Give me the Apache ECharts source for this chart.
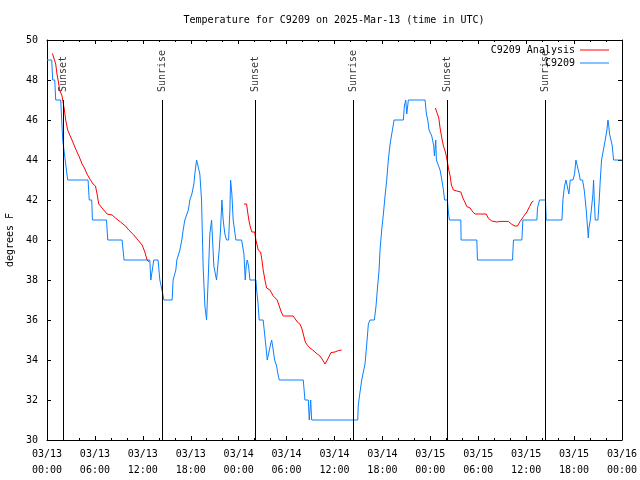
<!DOCTYPE html>
<html><head><meta charset="utf-8">
<script src="https://cdn.jsdelivr.net/npm/echarts@6/dist/echarts.min.js"></script>
<style>html,body{margin:0;padding:0;background:#fff}#c{width:640px;height:480px}</style>
</head><body><div id="c"></div>
<script>
// hours since 2025-03-13 00:00 UTC
var obsTimes = [0.00,0.59,0.71,0.97,1.09,1.72,1.84,1.97,2.09,2.28,2.47,2.59,5.14,5.29,5.60,5.69,7.45,7.61,9.40,9.65,
12.87,13.00,13.19,13.37,13.91,14.13,14.38,14.50,14.63,15.67,15.79,16.13,16.26,16.64,16.88,17.05,17.26,17.51,17.70,17.89,
18.14,18.39,18.51,18.73,18.98,19.14,19.35,19.55,19.77,19.98,20.18,20.39,20.61,20.73,20.89,21.23,21.46,21.56,21.73,21.90,
22.06,22.27,22.48,22.74,22.90,22.99,23.15,23.31,23.65,24.37,24.49,24.66,24.82,24.94,25.07,25.24,25.41,26.16,26.25,26.41,
26.57,27.07,27.25,27.41,27.58,27.83,28.00,28.13,28.33,28.50,28.75,28.92,29.08,32.09,32.30,32.72,32.84,33.02,33.14,38.91,
38.98,39.16,39.41,39.61,39.82,40.04,40.24,40.45,40.99,41.20,41.36,41.58,41.70,41.91,42.12,42.33,42.54,42.74,42.96,43.17,
43.46,44.62,44.75,44.92,45.05,45.25,47.34,47.51,47.68,47.84,48.18,48.43,48.51,48.68,48.76,48.97,49.22,49.44,49.64,49.79,
50.14,50.26,50.39,51.82,51.85,53.82,53.90,58.29,58.41,59.46,59.59,61.34,61.42,61.67,62.42,62.51,64.48,64.60,64.80,64.98,
65.18,65.35,65.52,65.86,66.06,66.23,66.43,66.64,66.77,67.06,67.27,67.40,67.52,67.69,67.78,67.86,68.03,68.28,68.36,68.44,
68.53,68.65,68.99,69.15,69.28,69.44,69.69,69.90,70.11,70.24,70.32,70.44,70.62,70.78,70.95,72.00];
var obsTemps = [49,49,48,48,47,47,46,45,45,44,44,43,43,42,42,41,41,40,40,39,
39,38,38,39,39,38,38,37.3,37,37,38,38.5,39,39.5,40,40.5,41,41,41.5,42,
42.3,42.8,43.3,44,44,43.3,42,38.7,36.7,36,38,40.3,41,40,38.7,38,38,39.5,40.5,42,
41,40.3,40,40,41.5,43,42.3,41,40,40,40,39.3,38,38.7,39,38.7,38,38,37.5,36.9,
36,36,35.3,34.7,34,34,34.8,35,34.5,34,33.7,33.3,33,33,32,32,31,32,31,31,
31.75,32.3,33,33,33.8,34.8,35.8,36,36,36.7,37.5,38.5,39.5,40.5,41.3,42.2,43,44,44.8,45.3,
46,46,46.7,47,46.3,47,47,46.3,46,45.5,45.2,44.7,44.2,45,44,44,43.5,43,42.5,42,
42,41.4,41,41,40,40,39,39,40,40,41,41,41.6,42,42,41,41,42,42.7,43,
43,42.3,43,43,43.3,44,44,43.3,43,43,42.5,42,41.5,40.6,40.1,40.6,41,41,42.3,43,
42,41,41,42,43,44,44,45,45.5,46,45.8,45.3,45,44.7,44,44];

var anaTimes = [0.68,0.88,1.09,1.25,1.43,1.59,1.88,2.01,2.18,2.34,2.59,2.85,3.13,3.43,3.76,4.10,4.39,4.69,5.01,5.44,
5.77,6.07,6.27,6.48,6.89,7.52,8.15,8.57,9.20,9.83,10.24,10.87,11.49,11.91,12.25,12.53,12.79,
18.0,
24.66,24.99,25.16,25.32,25.49,25.66,26.00,26.16,26.45,26.75,26.91,27.07,27.29,27.50,27.91,28.13,28.33,28.54,28.83,29.08,
29.33,29.58,30.83,31.05,31.34,31.67,31.89,32.09,32.34,32.59,32.93,33.27,33.55,33.84,34.18,34.52,34.81,35.10,35.35,35.56,
36.06,36.48,36.90,
42.0,
48.63,48.88,49.06,49.22,49.44,49.64,49.89,50.14,50.31,50.48,50.64,50.89,51.32,51.82,52.07,52.32,52.57,52.98,53.32,53.61,
54.99,55.28,55.70,56.33,56.74,57.78,58.21,58.62,58.91,59.25,59.66,60.09,60.42,60.72,60.92];
var anaTemps = [49.33,49.3,48.8,48.3,47.9,47.5,47.2,46.9,46.5,46,45.5,45.25,45,44.7,44.4,44.1,43.8,43.6,43.3,43,
42.8,42.7,42.3,41.8,41.6,41.3,41.25,41.1,40.9,40.7,40.5,40.25,39.95,39.75,39.4,39,38.9,
'-',
41.8,41.8,41.3,40.9,40.6,40.4,40.4,40,39.5,39.4,39,38.5,38,37.6,37.5,37.4,37.2,37.1,37,36.7,
36.4,36.2,36.2,36.1,35.9,35.8,35.6,35.3,34.9,34.75,34.6,34.5,34.4,34.3,34.2,34,33.8,34,34.2,34.37,
34.4,34.47,34.5,
'-',
46.6,46.6,46.1,45.6,45.1,44.7,44.4,43.9,43.5,43.2,42.75,42.5,42.45,42.4,42.1,41.9,41.67,41.6,41.4,41.3,
41.3,41.08,40.95,40.9,40.93,40.93,40.78,40.7,40.7,40.93,41.17,41.4,41.67,41.9,41.95];

var sunTimes = [2.0,14.41,26.07,38.36,50.14,62.42];
var sunNames = ['Sunset','Sunrise','Sunset','Sunrise','Sunset','Sunrise'];
var sunLineTop = 47;

var xTicks = [0,6,12,18,24,30,36,42,48,54,60,66,72];
var xTickLabels = ['03/13\n00:00','03/13\n06:00','03/13\n12:00','03/13\n18:00','03/14\n00:00','03/14\n06:00',
  '03/14\n12:00','03/14\n18:00','03/15\n00:00','03/15\n06:00','03/15\n12:00','03/15\n18:00','03/16\n00:00'];

var FONT = '"DejaVu Sans Mono", "Liberation Mono", monospace';

function zip(a,b){var r=[];for(var i=0;i<a.length;i++)r.push([a[i],b[i]]);return r;}

var chart = echarts.init(document.getElementById('c'), null, {renderer:'canvas'});

var sunLabelData = [], sunLines = [];
for (var i=0;i<sunTimes.length;i++){
  sunLabelData.push({value:[sunTimes[i], sunLineTop], name:sunNames[i]});
  sunLines.push([{coord:[sunTimes[i], sunLineTop]},{coord:[sunTimes[i], 30]}]);
}

var axisCommon = {
  axisLine:{show:true,onZero:false,lineStyle:{color:'#000',width:1}},
  axisTick:{show:true,inside:true,length:4,lineStyle:{color:'#000'}},
  splitLine:{show:false}
};

var option = {
  animation:false,
  backgroundColor:'#fff',
  title:{text:'Temperature for C9209 on 2025-Mar-13 (time in UTC)',left:329,top:10,textAlign:'center',
    textStyle:{fontFamily:FONT,fontSize:10,fontWeight:'normal',color:'#000'}},
  grid:{left:47,right:18,top:40,bottom:40,containLabel:false,outerBoundsMode:'none'},
  legend:[
    {data:[{name:'C9209 Analysis',icon:'rect'}],right:26,top:40,orient:'vertical',align:'right',itemWidth:29,itemHeight:1,
     textStyle:{fontFamily:FONT,fontSize:10,color:'#000'}},
    {data:[{name:'C9209',icon:'rect'}],right:26,top:53,orient:'vertical',align:'right',itemWidth:29,itemHeight:1,
     textStyle:{fontFamily:FONT,fontSize:10,color:'#000'}}
  ],
  xAxis:[
    Object.assign({type:'value',min:0,max:72,interval:6,position:'bottom',
      axisLabel:{margin:6,fontFamily:FONT,fontSize:10,color:'#000',lineHeight:16,
        formatter:function(v){var k=xTicks.indexOf(v);return k>=0?xTickLabels[k]:'';}},
      minorTick:{show:true,splitNumber:3,length:2,lineStyle:{color:'#000'}}}, axisCommon),
    Object.assign({type:'value',min:0,max:72,interval:6,position:'top',axisLabel:{show:false},
      minorTick:{show:true,splitNumber:3,length:2,lineStyle:{color:'#000'}}}, axisCommon)
  ],
  yAxis:[
    Object.assign({type:'value',min:30,max:50,interval:2,position:'left',
      name:'degrees F',nameLocation:'middle',nameGap:32,nameRotate:90,
      nameTextStyle:{fontFamily:FONT,fontSize:10,color:'#000'},
      axisLabel:{margin:9,fontFamily:FONT,fontSize:10,color:'#000'}}, axisCommon),
    Object.assign({type:'value',min:30,max:50,interval:2,position:'right',axisLabel:{show:false}}, axisCommon)
  ],
  series:[
    {name:'C9209 Analysis',type:'line',data:zip(anaTimes,anaTemps),showSymbol:false,symbol:'none',
     connectNulls:false,color:'#ff0000',lineStyle:{width:1,color:'#ff0000'},z:4,silent:true},
    {name:'C9209',type:'line',data:zip(obsTimes,obsTemps),showSymbol:false,symbol:'none',
     color:'#0a80ff',lineStyle:{width:1,color:'#0a80ff'},z:3,silent:true},
    {name:'sun',type:'scatter',data:sunLabelData,symbolSize:0,silent:true,z:2,
     label:{show:true,position:'top',distance:8,rotate:90,align:'left',verticalAlign:'middle',
       formatter:function(p){return p.name;},fontFamily:FONT,fontSize:10,color:'#000'},
     markLine:{silent:true,symbol:['none','none'],label:{show:false},
       lineStyle:{color:'#000',width:1,type:'solid'},data:sunLines}}
  ]
};
chart.setOption(option);
</script></body></html>
